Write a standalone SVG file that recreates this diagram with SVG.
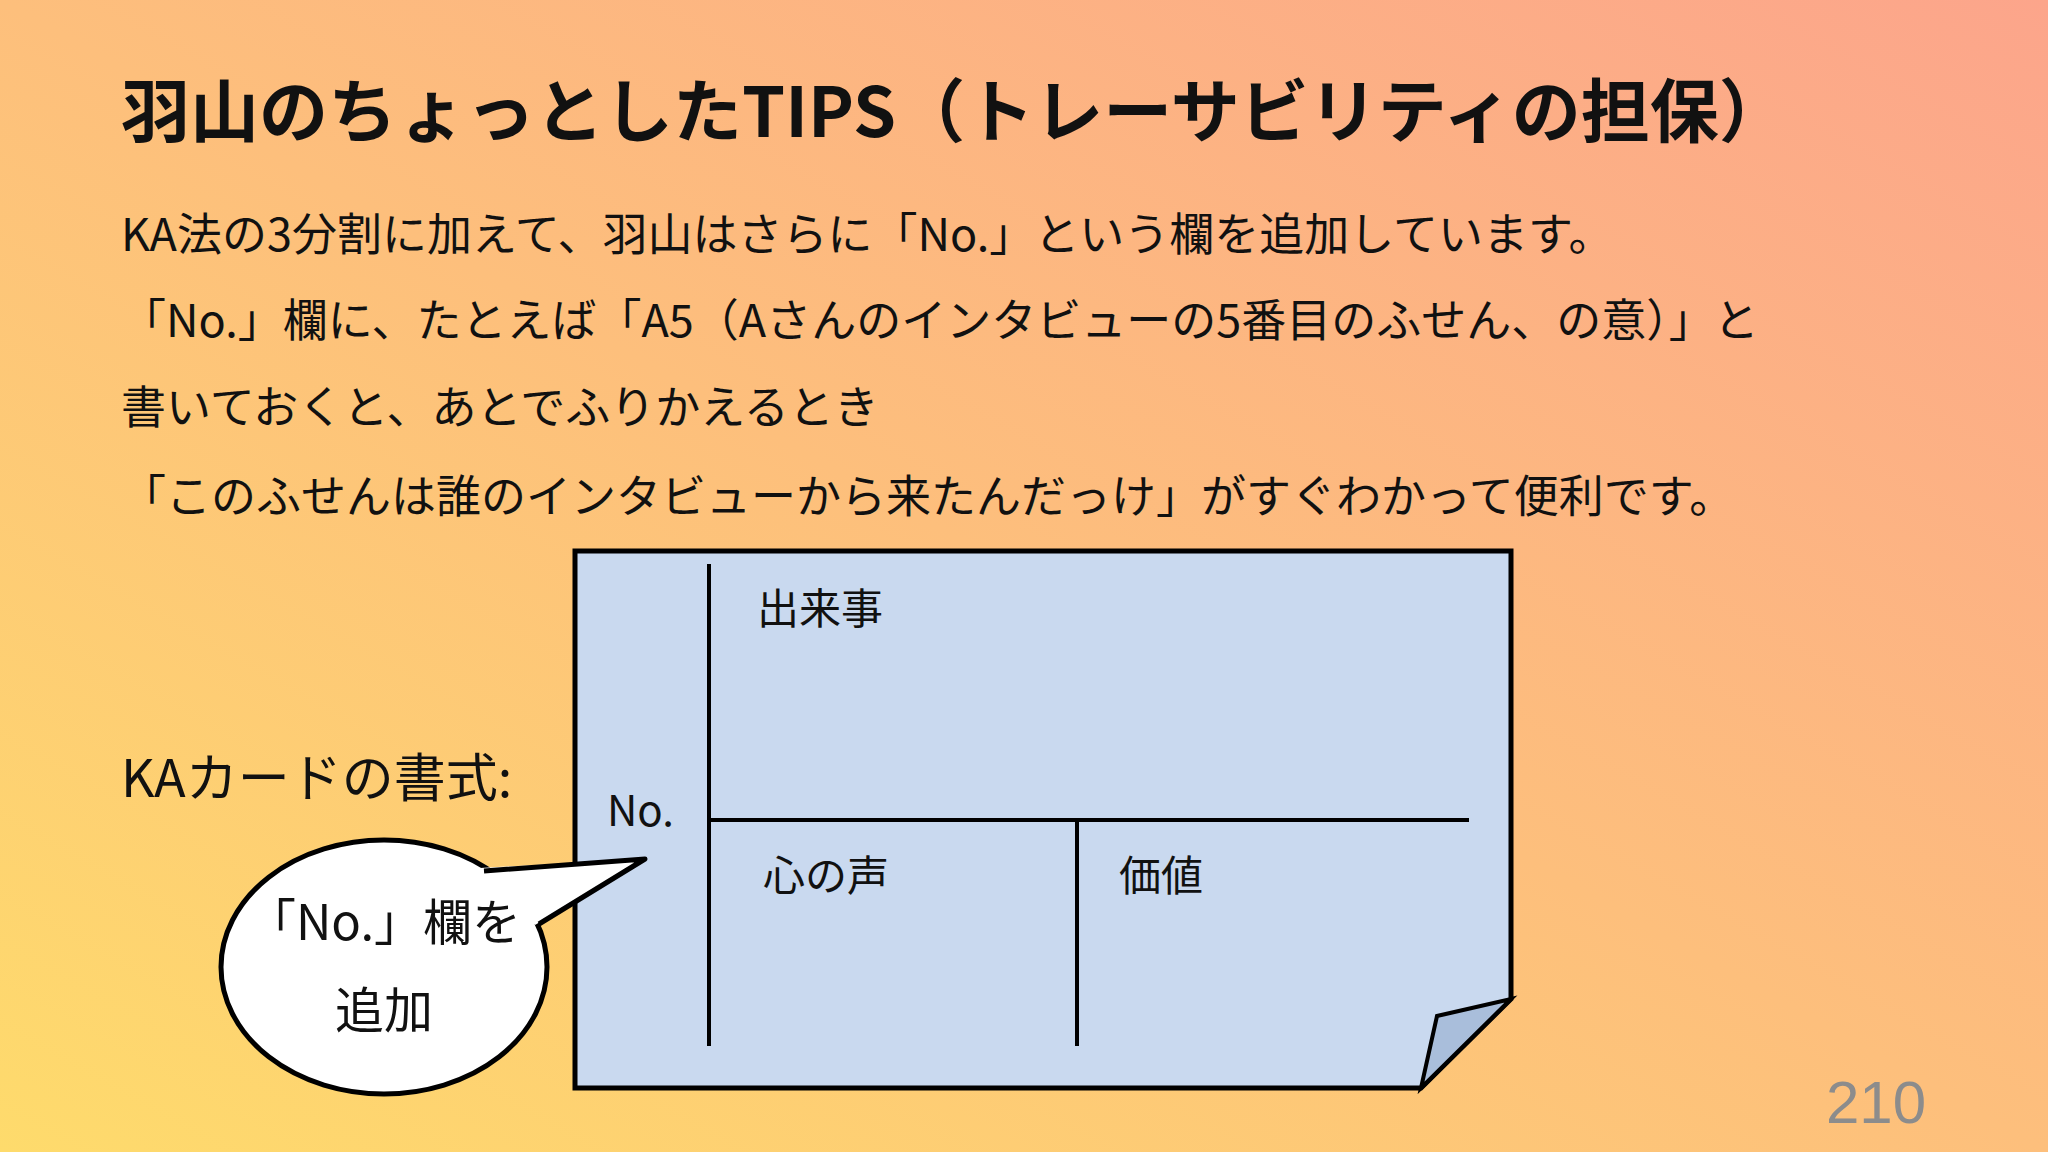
<svg xmlns="http://www.w3.org/2000/svg" width="2048" height="1152" viewBox="0 0 2048 1152">
<defs>
<linearGradient id="bg" x1="0" y1="1" x2="1" y2="0">
<stop offset="0" stop-color="#fedb6c"/>
<stop offset="0.5" stop-color="#fdbf7c"/>
<stop offset="1" stop-color="#fca58b"/>
</linearGradient>
<style>
.j{font-family:"Noto Sans CJK JP","Noto Sans",sans-serif;fill:#111}
.t{font-size:69px;font-weight:bold}
.b{font-size:45px}
.c{font-size:42px}
.ln{stroke:#000;stroke-width:4;fill:none}
</style>
</defs>
<rect width="2048" height="1152" fill="url(#bg)"/>
<text class="j t" x="121" y="137">羽山のちょっとしたTIPS（トレーサビリティの担保）</text>
<g id="body">
<text class="j b" x="121" y="251">KA法の3分割に加えて、羽山はさらに「No.」という欄を追加しています。</text>
<text class="j b" x="121" y="337">「No.」欄に、たとえば「A5（Aさんのインタビューの5番目のふせん、の意）」と</text>
<text class="j b" x="121" y="424">書いておくと、あとでふりかえるとき</text>
<text class="j b" x="121" y="513">「このふせんは誰のインタビューから来たんだっけ」がすぐわかって便利です。</text>
</g>
<text class="j" x="121" y="797" font-size="52">KAカードの書式:</text>
<g id="card">
<path d="M575,551 H1511 V999 L1421,1088 H575 Z" fill="#c9d9ef" stroke="#000" stroke-width="5"/>
<path d="M1421,1088 L1437,1016 L1511,999 Z" fill="#a9bedb" stroke="#000" stroke-width="4"/>
</g>
<g id="connectors">
<line class="ln" x1="709" y1="564" x2="709" y2="1046"/>
<line class="ln" x1="709" y1="820" x2="1469" y2="820"/>
<line class="ln" x1="1077" y1="820" x2="1077" y2="1046"/>
</g>
<g id="labels">
<text class="j c" x="757" y="624">出来事</text>
<text class="j c" x="763" y="891">心の声</text>
<text class="j c" x="1119" y="891">価値</text>
<text class="j c" x="607" y="826">No.</text>
</g>
<g id="bubble">
<ellipse cx="384" cy="967" rx="163" ry="127" fill="#fff" stroke="#000" stroke-width="5"/>
<path d="M480,868 L645,859 L535,925 Z" fill="#fff"/>
<path d="M484,871 L645,859 L539,924" fill="none" stroke="#000" stroke-width="5" stroke-linejoin="round"/>
<text class="j" x="384" y="940" font-size="49" text-anchor="middle">「No.」欄を</text>
<text class="j" x="384" y="1028" font-size="49" text-anchor="middle">追加</text>
</g>
<text x="1926" y="1123" font-family="Liberation Sans,sans-serif" font-size="60" fill="#8c8c8c" text-anchor="end">210</text>
</svg>
